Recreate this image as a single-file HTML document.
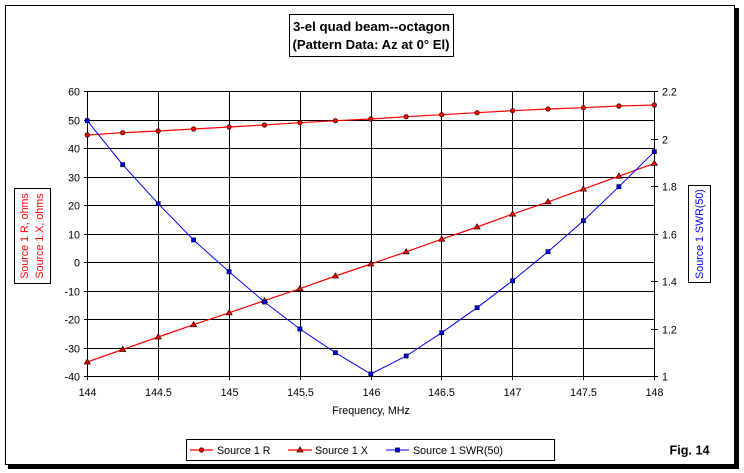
<!DOCTYPE html>
<html><head><meta charset="utf-8"><style>
html,body{margin:0;padding:0;background:#fff;}
svg{display:block;}
text{font-family:"Liberation Sans",Arial,sans-serif;}
</style></head><body>
<svg width="744" height="473" viewBox="0 0 744 473" xmlns="http://www.w3.org/2000/svg">
<rect x="0" y="0" width="744" height="473" fill="#fff"/>
<!-- frame + shadow -->
<rect x="8" y="8" width="731" height="461" fill="#000"/>
<rect x="5.5" y="5.5" width="729" height="459" fill="#fff" stroke="#000" stroke-width="1"/>

<!-- title -->
<rect x="289.5" y="14.5" width="164" height="42" fill="#fff" stroke="#000" stroke-width="1"/>
<text x="371.5" y="31" text-anchor="middle" font-size="13.3" font-weight="bold" textLength="157" lengthAdjust="spacingAndGlyphs">3-el quad beam--octagon</text>
<text x="371" y="49" text-anchor="middle" font-size="13.3" font-weight="bold" textLength="157" lengthAdjust="spacingAndGlyphs">(Pattern Data: Az at 0° El)</text>

<!-- grid -->
<g stroke="#000" stroke-width="1" shape-rendering="crispEdges">
<line x1="87.5" y1="91.5" x2="654.5" y2="91.5"/>
<line x1="87.5" y1="120.5" x2="654.5" y2="120.5"/>
<line x1="87.5" y1="148.5" x2="654.5" y2="148.5"/>
<line x1="87.5" y1="177.5" x2="654.5" y2="177.5"/>
<line x1="87.5" y1="205.5" x2="654.5" y2="205.5"/>
<line x1="87.5" y1="234.5" x2="654.5" y2="234.5"/>
<line x1="87.5" y1="262.5" x2="654.5" y2="262.5"/>
<line x1="87.5" y1="291.5" x2="654.5" y2="291.5"/>
<line x1="87.5" y1="319.5" x2="654.5" y2="319.5"/>
<line x1="87.5" y1="348.5" x2="654.5" y2="348.5"/>
<line x1="87.5" y1="376.5" x2="654.5" y2="376.5"/>
<line x1="87.5" y1="91" x2="87.5" y2="380"/>
<line x1="158.5" y1="91" x2="158.5" y2="380"/>
<line x1="229.5" y1="91" x2="229.5" y2="380"/>
<line x1="300.5" y1="91" x2="300.5" y2="380"/>
<line x1="371.5" y1="91" x2="371.5" y2="380"/>
<line x1="441.5" y1="91" x2="441.5" y2="380"/>
<line x1="512.5" y1="91" x2="512.5" y2="380"/>
<line x1="583.5" y1="91" x2="583.5" y2="380"/>
<line x1="654.5" y1="91" x2="654.5" y2="380"/>
<!-- left ticks -->
<line x1="84" y1="91.5" x2="88" y2="91.5"/>
<line x1="84" y1="120.5" x2="88" y2="120.5"/>
<line x1="84" y1="148.5" x2="88" y2="148.5"/>
<line x1="84" y1="177.5" x2="88" y2="177.5"/>
<line x1="84" y1="205.5" x2="88" y2="205.5"/>
<line x1="84" y1="234.5" x2="88" y2="234.5"/>
<line x1="84" y1="262.5" x2="88" y2="262.5"/>
<line x1="84" y1="291.5" x2="88" y2="291.5"/>
<line x1="84" y1="319.5" x2="88" y2="319.5"/>
<line x1="84" y1="348.5" x2="88" y2="348.5"/>
<line x1="84" y1="376.5" x2="88" y2="376.5"/>
<!-- right ticks -->
<line x1="651" y1="91.5" x2="658" y2="91.5"/>
<line x1="651" y1="139.5" x2="658" y2="139.5"/>
<line x1="651" y1="186.5" x2="658" y2="186.5"/>
<line x1="651" y1="234.5" x2="658" y2="234.5"/>
<line x1="651" y1="281.5" x2="658" y2="281.5"/>
<line x1="651" y1="329.5" x2="658" y2="329.5"/>
<line x1="651" y1="376.5" x2="658" y2="376.5"/>
</g>

<!-- left tick labels -->
<g font-size="10.7" text-anchor="end" fill="#000">
<text x="80" y="95.5">60</text>
<text x="80" y="124.5">50</text>
<text x="80" y="152.5">40</text>
<text x="80" y="181.5">30</text>
<text x="80" y="209.5">20</text>
<text x="80" y="238.5">10</text>
<text x="80" y="266.5">0</text>
<text x="80" y="295.5">-10</text>
<text x="80" y="323.5">-20</text>
<text x="80" y="352.5">-30</text>
<text x="80" y="380.5">-40</text>
</g>
<!-- right tick labels -->
<g font-size="10.7" text-anchor="start" fill="#000">
<text x="662" y="95.5">2.2</text>
<text x="662" y="143.5">2</text>
<text x="662" y="190.5">1.8</text>
<text x="662" y="238.5">1.6</text>
<text x="662" y="285.5">1.4</text>
<text x="662" y="333.5">1.2</text>
<text x="662" y="380.5">1</text>
</g>
<!-- bottom labels -->
<g font-size="10.7" text-anchor="middle" fill="#000">
<text x="87.5" y="396">144</text>
<text x="158.5" y="396">144.5</text>
<text x="229.5" y="396">145</text>
<text x="300.5" y="396">145.5</text>
<text x="371.5" y="396">146</text>
<text x="441.5" y="396">146.5</text>
<text x="512.5" y="396">147</text>
<text x="583.5" y="396">147.5</text>
<text x="654.5" y="396">148</text>
<text x="371" y="414">Frequency, MHz</text>
</g>

<!-- axis titles -->
<rect x="14.5" y="188.5" width="36" height="95" fill="#fff" stroke="#000" stroke-width="1"/>
<g fill="#ff0000" font-size="10.7">
<text transform="translate(28,236) rotate(-90)" text-anchor="middle">Source 1 R, ohms</text>
<text transform="translate(43,236) rotate(-90)" text-anchor="middle">Source 1 X, ohms</text>
</g>
<rect x="688.5" y="185.5" width="22" height="97" fill="#fff" stroke="#000" stroke-width="1"/>
<text transform="translate(703,234) rotate(-90)" text-anchor="middle" fill="#0000ff" font-size="10.7">Source 1 SWR(50)</text>

<!-- series lines -->
<polyline fill="none" stroke="#ff0000" stroke-width="1.2" points="87.3,135 122.7,132.7 158.2,131 193.6,129 229.1,127 264.5,125 299.9,122.7 335.4,120.7 370.8,119 406.2,116.7 441.7,114.7 477.1,112.7 512.6,110.7 548,109 583.4,107.7 618.9,106 654.3,105"/>
<polyline fill="none" stroke="#ff0000" stroke-width="1.2" points="87.3,362 122.7,349.5 158.2,337 193.6,324.7 229.1,312.8 264.5,300.6 299.9,288.7 335.4,276 370.8,264 406.2,251.8 441.7,239.2 477.1,227 512.6,214.1 548,201.9 583.4,189.1 618.9,176.2 654.3,163.4"/>
<polyline fill="none" stroke="#0000ff" stroke-width="1" points="87.3,120.7 122.7,164.7 158.2,203.7 193.6,240 229.1,271.7 264.5,302 299.9,329 335.4,352.7 370.8,374 406.2,356 441.7,332.7 477.1,307.7 512.6,280.7 548,251.7 583.4,220.7 618.9,186.7 654.3,151.7"/>

<!-- markers R -->
<g fill="#ff0000" stroke="#400000" stroke-width="0.8">
<circle cx="87.3" cy="135" r="2.2"/><circle cx="122.7" cy="132.7" r="2.2"/><circle cx="158.2" cy="131" r="2.2"/><circle cx="193.6" cy="129" r="2.2"/><circle cx="229.1" cy="127" r="2.2"/><circle cx="264.5" cy="125" r="2.2"/><circle cx="299.9" cy="122.7" r="2.2"/><circle cx="335.4" cy="120.7" r="2.2"/><circle cx="370.8" cy="119" r="2.2"/><circle cx="406.2" cy="116.7" r="2.2"/><circle cx="441.7" cy="114.7" r="2.2"/><circle cx="477.1" cy="112.7" r="2.2"/><circle cx="512.6" cy="110.7" r="2.2"/><circle cx="548" cy="109" r="2.2"/><circle cx="583.4" cy="107.7" r="2.2"/><circle cx="618.9" cy="106" r="2.2"/><circle cx="654.3" cy="105" r="2.2"/>
</g>
<!-- markers X (triangles) -->
<g fill="#ff0000" stroke="#400000" stroke-width="0.8">
<polygon points="87.3,359 84.3,364 90.3,364"/>
<polygon points="122.7,346.5 119.7,351.5 125.7,351.5"/>
<polygon points="158.2,334 155.2,339 161.2,339"/>
<polygon points="193.6,321.7 190.6,326.7 196.6,326.7"/>
<polygon points="229.1,309.8 226.1,314.8 232.1,314.8"/>
<polygon points="264.5,297.6 261.5,302.6 267.5,302.6"/>
<polygon points="299.9,285.7 296.9,290.7 302.9,290.7"/>
<polygon points="335.4,273 332.4,278 338.4,278"/>
<polygon points="370.8,261 367.8,266 373.8,266"/>
<polygon points="406.2,248.8 403.2,253.8 409.2,253.8"/>
<polygon points="441.7,236.2 438.7,241.2 444.7,241.2"/>
<polygon points="477.1,224 474.1,229 480.1,229"/>
<polygon points="512.6,211.1 509.6,216.1 515.6,216.1"/>
<polygon points="548,198.9 545,203.9 551,203.9"/>
<polygon points="583.4,186.1 580.4,191.1 586.4,191.1"/>
<polygon points="618.9,173.2 615.9,178.2 621.9,178.2"/>
<polygon points="654.3,160.4 651.3,165.4 657.3,165.4"/>
</g>
<!-- markers SWR -->
<g fill="#0000ff" stroke="#000040" stroke-width="0.8">
<rect x="85.3" y="118.7" width="4" height="4"/><rect x="120.7" y="162.7" width="4" height="4"/><rect x="156.2" y="201.7" width="4" height="4"/><rect x="191.6" y="238" width="4" height="4"/><rect x="227.1" y="269.7" width="4" height="4"/><rect x="262.5" y="300" width="4" height="4"/><rect x="297.9" y="327" width="4" height="4"/><rect x="333.4" y="350.7" width="4" height="4"/><rect x="368.8" y="372" width="4" height="4"/><rect x="404.2" y="354" width="4" height="4"/><rect x="439.7" y="330.7" width="4" height="4"/><rect x="475.1" y="305.7" width="4" height="4"/><rect x="510.6" y="278.7" width="4" height="4"/><rect x="546" y="249.7" width="4" height="4"/><rect x="581.4" y="218.7" width="4" height="4"/><rect x="616.9" y="184.7" width="4" height="4"/><rect x="652.3" y="149.7" width="4" height="4"/>
</g>

<!-- legend -->
<rect x="186.5" y="439.5" width="368" height="21" fill="#fff" stroke="#000" stroke-width="1"/>
<line x1="190" y1="450" x2="213" y2="450" stroke="#ff0000" stroke-width="1.2"/>
<circle cx="201.5" cy="450" r="2.2" fill="#ff0000" stroke="#400000" stroke-width="0.8"/>
<text x="217" y="454" font-size="10.7">Source 1 R</text>
<line x1="288" y1="450" x2="312" y2="450" stroke="#ff0000" stroke-width="1.2"/>
<polygon points="300,447 297,452 303,452" fill="#ff0000" stroke="#400000" stroke-width="0.8"/>
<text x="315" y="454" font-size="10.7">Source 1 X</text>
<line x1="386" y1="450" x2="409" y2="450" stroke="#0000ff" stroke-width="1"/>
<rect x="395.5" y="448" width="4" height="4" fill="#0000ff" stroke="#000040" stroke-width="0.8"/>
<text x="413" y="454" font-size="10.7" textLength="90" lengthAdjust="spacingAndGlyphs">Source 1 SWR(50)</text>

<text x="669.5" y="454.5" font-size="12.6" font-weight="bold" textLength="40" lengthAdjust="spacingAndGlyphs">Fig. 14</text>
</svg>
</body></html>
